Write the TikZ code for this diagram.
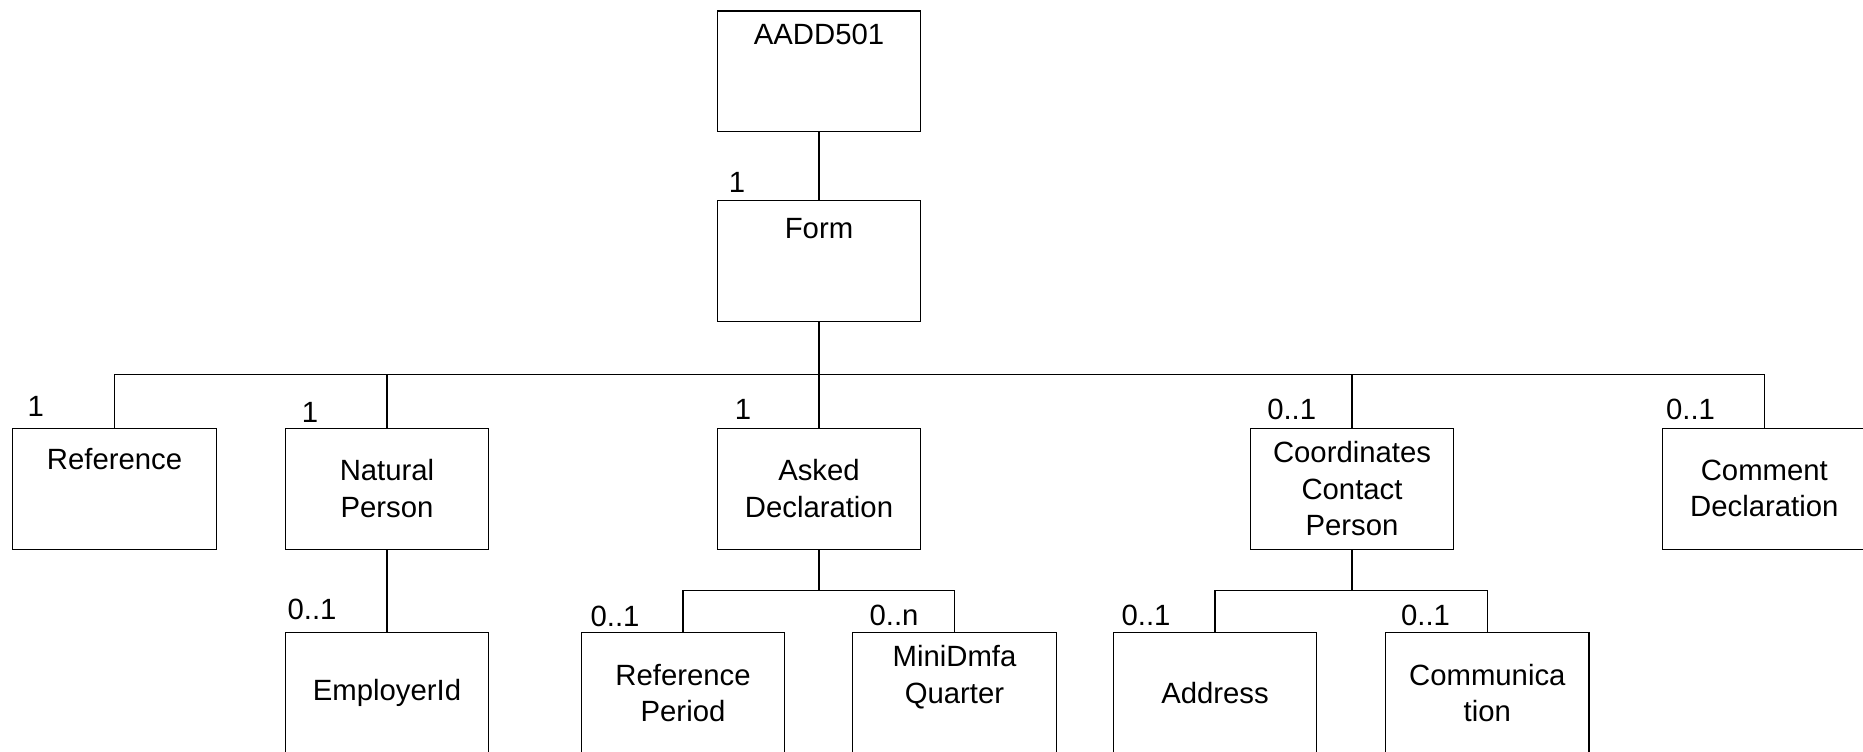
\documentclass[tikz,border=0pt]{standalone}
\usepackage{fontspec}
\setmainfont{Liberation Sans}
\tikzstyle{entity}=[rectangle,draw,line width=0.6pt,minimum width=101.7pt,minimum height=60.4pt,inner sep=0pt,align=center]
\tikzstyle{card}=[inner sep=0pt]
\tikzstyle{link}=[line width=0.6pt]

\begin{document}
\begin{tikzpicture}[x=50pt,y=50pt,font=\fontsize{14.65}{18.2}\selectfont]
\useasboundingbox (0,0) rectangle (18.63,-7.51);
\node[entity,text depth=37pt] (root) at (8.19,-0.713) {AADD501};
\node[entity,text depth=32pt] (form) at (8.19,-2.609) {Form};
\node[entity,text depth=30pt] (ref) at (1.145,-4.887) {Reference};
\node[entity] (np) at (3.87,-4.887) {Natural\\Person};
\node[entity] (ad) at (8.19,-4.887) {Asked\\Declaration};
\node[entity] (ccp) at (13.52,-4.887) {Coordinates\\Contact\\Person};
\node[entity] (cd) at (17.643,-4.887) {Comment\\Declaration};
\node[entity] (emp) at (3.87,-6.93) {EmployerId};
\node[entity] (rp) at (6.83,-6.93) {Reference\\Period};
\node[entity,text depth=18.5pt] (mdq) at (9.545,-6.93) {MiniDmfa\\Quarter};
\node[entity] (adr) at (12.15,-6.93) {Address};
\node[entity] (com) at (14.873,-6.93) {Communica\\tion};
%cardinalities
\node[card] (lform) at (7.37,-1.827) {1};
\node[card] (lref) at (0.357,-4.06) {1};
\node[card] (lnp) at (3.10,-4.127) {1};
\node[card] (lad) at (7.43,-4.09) {1};
\node[card] (lccp) at (12.917,-4.09) {0..1};
\node[card] (lcd) at (16.905,-4.09) {0..1};
\node[card] (lemp) at (3.12,-6.09) {0..1};
\node[card] (lrp) at (6.15,-6.16) {0..1};
\node[card] (lmdq) at (8.94,-6.15) {0..n};
\node[card] (ladr) at (11.46,-6.153) {0..1};
\node[card] (lcom) at (14.255,-6.15) {0..1};
%Drawing Edges
\coordinate (bus) at (8.19,-3.743);
\coordinate (adbus) at (8.19,-5.905);
\coordinate (ccpbus) at (13.52,-5.905);
\draw[link] (root) -- (form);
\draw[link] (form) -- (bus);
\draw[link] (bus) -| (ref);
\draw[link] (bus) -| (np);
\draw[link] (bus) -- (ad);
\draw[link] (bus) -| (ccp);
\draw[link] (bus) -| (cd);
\draw[link] (np) -- (emp);
\draw[link] (ad) -- (adbus);
\draw[link] (adbus) -| (rp);
\draw[link] (adbus) -| (mdq);
\draw[link] (ccp) -- (ccpbus);
\draw[link] (ccpbus) -| (adr);
\draw[link] (ccpbus) -| (com);
\end{tikzpicture}
\end{document}
